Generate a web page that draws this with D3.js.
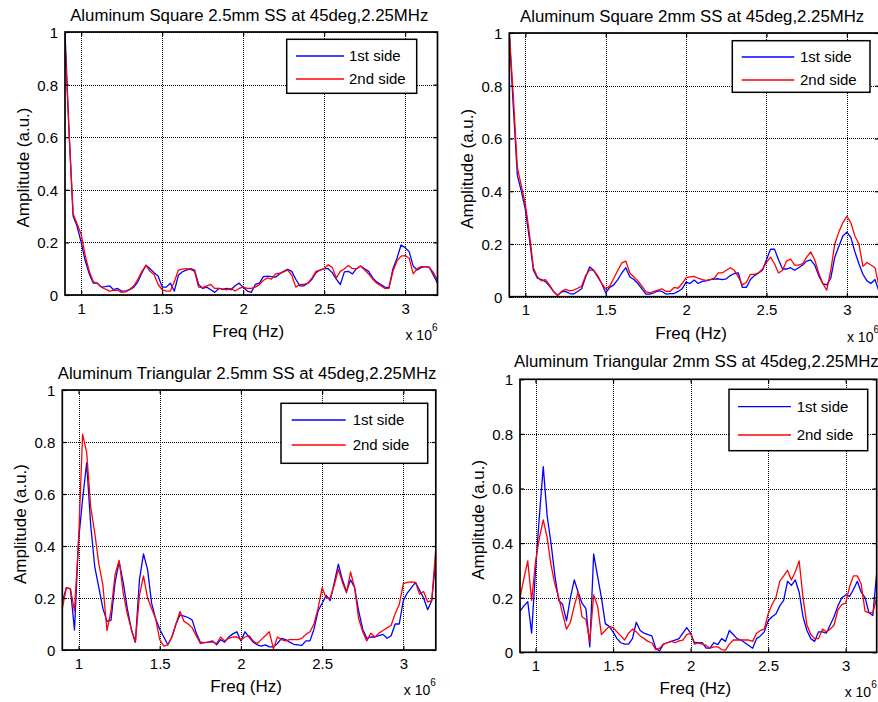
<!DOCTYPE html>
<html>
<head>
<meta charset="utf-8">
<script src="https://cdn.jsdelivr.net/npm/d3@7"></script>
<style>
  body { margin: 0; background: #fff; }
  svg { display: block; }
  text { font-family: "Liberation Sans", Arial, Helvetica, sans-serif; fill: #000; }
</style>
</head>
<body>
<svg id="chart" width="878" height="702"></svg>
<script>
// Spectra sampled on a uniform frequency grid (MHz): FREQ_START + i * FREQ_STEP
const FREQ_START = 0.9;
const FREQ_STEP = 0.025;

const titles = [
  "Aluminum Square 2.5mm SS at 45deg,2.25MHz",
  "Aluminum Square 2mm SS at 45deg,2.25MHz",
  "Aluminum Triangular 2.5mm SS at 45deg,2.25MHz",
  "Aluminum Triangular 2mm SS at 45deg,2.25MHz"
];
const seriesNames = ["1st side", "2nd side"];
const xTickValues = [1e6, 1.5e6, 2e6, 2.5e6, 3e6];
const xTickLabels = ["1", "1.5", "2", "2.5", "3"];
const yTickValues = [0, 0.2, 0.4, 0.6, 0.8, 1];
const yTickLabels = ["0", "0.2", "0.4", "0.6", "0.8", "1"];

// Square 2.5 mm
const sq25Side1 = [1.0,0.62,0.30,0.26,0.20,0.13,0.08,0.045,0.045,0.03,0.032,0.035,0.02,0.025,0.015,0.016,0.02,0.03,0.05,0.085,
  0.113,0.1,0.085,0.072,0.03,0.03,0.045,0.015,0.075,0.088,0.095,0.1,0.095,0.04,0.025,0.03,0.02,0.01,0.025,0.022,
  0.025,0.02,0.035,0.045,0.03,0.015,0.01,0.04,0.045,0.07,0.072,0.07,0.068,0.08,0.09,0.098,0.09,0.06,0.035,0.035,
  0.045,0.06,0.085,0.095,0.1,0.1,0.085,0.06,0.04,0.088,0.09,0.08,0.1,0.11,0.1,0.09,0.065,0.05,0.04,0.03,
  0.028,0.1,0.14,0.19,0.18,0.165,0.11,0.095,0.105,0.108,0.105,0.075,0.045];
const sq25Side2 = [0.96,0.62,0.31,0.27,0.23,0.15,0.09,0.05,0.045,0.03,0.022,0.015,0.018,0.018,0.01,0.012,0.022,0.035,0.06,0.09,
  0.113,0.09,0.078,0.04,0.02,0.015,0.015,0.05,0.095,0.098,0.1,0.097,0.09,0.03,0.028,0.035,0.04,0.025,0.025,0.022,
  0.02,0.025,0.015,0.025,0.03,0.025,0.025,0.03,0.04,0.055,0.065,0.06,0.08,0.083,0.088,0.095,0.075,0.03,0.04,0.04,
  0.045,0.065,0.09,0.095,0.1,0.115,0.105,0.065,0.09,0.1,0.112,0.1,0.1,0.11,0.095,0.08,0.06,0.045,0.035,0.025,
  0.025,0.09,0.13,0.148,0.15,0.14,0.08,0.1,0.108,0.108,0.105,0.085,0.055];

// Square 2 mm
const sq2Side1 = [1.0,0.72,0.46,0.4,0.33,0.22,0.1,0.07,0.065,0.057,0.04,0.02,0.005,0.018,0.02,0.012,0.01,0.02,0.03,0.075,
  0.113,0.1,0.075,0.05,0.015,0.035,0.045,0.065,0.09,0.11,0.075,0.065,0.05,0.03,0.01,0.01,0.015,0.022,0.02,0.01,
  0.012,0.012,0.02,0.03,0.055,0.05,0.063,0.05,0.058,0.06,0.065,0.067,0.068,0.065,0.068,0.08,0.088,0.09,0.035,0.035,
  0.065,0.08,0.09,0.1,0.14,0.18,0.18,0.14,0.105,0.105,0.11,0.1,0.11,0.12,0.135,0.14,0.12,0.08,0.05,0.045,
  0.07,0.15,0.19,0.23,0.245,0.225,0.17,0.125,0.085,0.06,0.05,0.065,0.02];
const sq2Side2 = [1.0,0.76,0.49,0.42,0.35,0.24,0.11,0.075,0.06,0.065,0.045,0.02,0.005,0.02,0.028,0.022,0.025,0.032,0.04,0.08,
  0.102,0.1,0.08,0.05,0.03,0.04,0.07,0.1,0.128,0.135,0.09,0.075,0.06,0.04,0.018,0.015,0.02,0.025,0.03,0.02,
  0.02,0.035,0.032,0.05,0.072,0.075,0.077,0.07,0.065,0.062,0.065,0.07,0.09,0.09,0.1,0.11,0.1,0.075,0.045,0.055,
  0.085,0.085,0.09,0.105,0.13,0.15,0.125,0.09,0.1,0.135,0.143,0.12,0.12,0.125,0.15,0.17,0.14,0.09,0.05,0.025,
  0.1,0.2,0.245,0.28,0.305,0.28,0.23,0.2,0.115,0.13,0.12,0.11,0.04];

// Triangular 2.5 mm
const tri25Side1 = [0.185,0.24,0.235,0.077,0.42,0.58,0.72,0.48,0.32,0.24,0.16,0.11,0.115,0.26,0.34,0.26,0.16,0.08,0.03,0.27,
  0.37,0.31,0.18,0.12,0.08,0.05,0.02,0.05,0.1,0.135,0.13,0.125,0.115,0.065,0.03,0.028,0.03,0.035,0.02,0.04,
  0.03,0.05,0.062,0.07,0.035,0.07,0.05,0.03,0.02,0.015,0.02,0.012,0.012,0.025,0.045,0.04,0.03,0.022,0.02,0.018,
  0.035,0.035,0.08,0.15,0.18,0.21,0.19,0.26,0.33,0.27,0.225,0.27,0.24,0.15,0.08,0.045,0.05,0.05,0.055,0.06,
  0.045,0.055,0.1,0.1,0.19,0.22,0.24,0.26,0.23,0.2,0.155,0.19,0.35];
const tri25Side2 = [0.16,0.24,0.235,0.15,0.42,0.83,0.76,0.55,0.45,0.33,0.25,0.075,0.15,0.29,0.345,0.22,0.14,0.08,0.03,0.21,
  0.285,0.2,0.16,0.12,0.04,0.015,0.02,0.05,0.1,0.148,0.11,0.1,0.085,0.055,0.025,0.028,0.03,0.03,0.025,0.05,
  0.035,0.045,0.05,0.05,0.04,0.05,0.055,0.035,0.025,0.04,0.055,0.07,0.005,0.05,0.04,0.035,0.04,0.04,0.04,0.045,
  0.06,0.07,0.1,0.16,0.24,0.2,0.2,0.25,0.31,0.26,0.22,0.3,0.24,0.12,0.07,0.035,0.065,0.05,0.065,0.075,
  0.085,0.095,0.14,0.175,0.255,0.26,0.262,0.26,0.215,0.225,0.185,0.19,0.39];

// Triangular 2 mm
const tri2Side1 = [0.15,0.17,0.185,0.07,0.3,0.5,0.68,0.5,0.4,0.28,0.19,0.175,0.115,0.2,0.265,0.22,0.18,0.16,0.02,0.36,
  0.28,0.2,0.105,0.095,0.075,0.05,0.035,0.03,0.03,0.05,0.11,0.08,0.07,0.065,0.06,0.015,0.005,0.03,0.035,0.04,
  0.045,0.05,0.07,0.09,0.07,0.035,0.035,0.035,0.015,0.015,0.035,0.028,0.05,0.04,0.08,0.065,0.05,0.045,0.035,0.025,
  0.015,0.05,0.06,0.075,0.115,0.13,0.14,0.17,0.19,0.26,0.245,0.265,0.22,0.13,0.08,0.05,0.04,0.075,0.075,0.07,
  0.1,0.13,0.17,0.2,0.21,0.205,0.23,0.26,0.22,0.2,0.145,0.135,0.29];
const tri2Side2 = [0.2,0.27,0.335,0.19,0.33,0.42,0.485,0.42,0.32,0.25,0.2,0.14,0.085,0.11,0.17,0.22,0.13,0.12,0.04,0.21,
  0.17,0.065,0.08,0.095,0.09,0.075,0.06,0.045,0.07,0.085,0.075,0.06,0.05,0.04,0.035,0.01,0.015,0.03,0.035,0.04,
  0.035,0.042,0.045,0.065,0.07,0.03,0.035,0.03,0.025,0.015,0.02,0.02,0.01,0.008,0.03,0.045,0.045,0.045,0.045,0.045,
  0.04,0.07,0.08,0.085,0.14,0.175,0.2,0.26,0.28,0.3,0.265,0.295,0.335,0.2,0.1,0.065,0.05,0.05,0.085,0.075,
  0.085,0.1,0.155,0.175,0.18,0.24,0.28,0.28,0.25,0.15,0.145,0.145,0.2];

// Layout of the four axes and their legends
const panels = [
  { title: titles[0], data: [sq25Side1, sq25Side2],
    box: { l: 65, r: 437.5, t: 32, b: 295 }, titleY: 21,
    legend: { x: 286.7, y: 39.3, w: 130, h: 54, lx0: 9.3, lx1: 57.3, tx: 62.3, r1: 16.7, r2: 39.7 } },
  { title: titles[1], data: [sq2Side1, sq2Side2],
    box: { l: 509.3, r: 879, t: 33, b: 296.7 }, titleY: 21.5,
    legend: { x: 732.3, y: 40.7, w: 137.7, h: 51.6, lx0: 9.4, lx1: 62, tx: 67.7, r1: 16.3, r2: 39.3 } },
  { title: titles[2], data: [tri25Side1, tri25Side2],
    box: { l: 62.3, r: 435.8, t: 390, b: 650 }, titleY: 379,
    legend: { x: 281, y: 403.3, w: 146.7, h: 60, lx0: 10.7, lx1: 64.7, tx: 71.7, r1: 16.7, r2: 41.7 } },
  { title: titles[3], data: [tri2Side1, tri2Side2],
    box: { l: 520, r: 876.7, t: 379.3, b: 652.3 }, titleY: 367.3,
    legend: { x: 729, y: 389.3, w: 138.7, h: 61.4, lx0: 9, lx1: 62, tx: 67.7, r1: 17.4, r2: 45.7 } }
];
const colors = ["#0000ff", "#ff0000"];

const svg = d3.select("#chart");
svg.append("rect").attr("width", 878).attr("height", 702).attr("fill", "#fff");
const defs = svg.append("defs");

panels.forEach((p, k) => {
  const { l, r, t, b } = p.box;
  const x = d3.scaleLinear().domain([0.9e6, 3.2e6]).range([l, r]);
  const y = d3.scaleLinear().domain([0, 1]).range([b, t]);
  const g = svg.append("g");

  g.append("rect").attr("x", l).attr("y", t).attr("width", r - l).attr("height", b - t).attr("fill", "#fff");

  // dotted grid, snapped to pixel centres so the dots stay dark
  const snap = v => Math.round(v) + 0.5;
  const grid = g.append("g").attr("stroke", "#000").attr("stroke-width", 1)
    .attr("stroke-dasharray", "1,1").attr("fill", "none").attr("shape-rendering", "crispEdges");
  xTickValues.forEach(v => grid.append("line")
    .attr("x1", snap(x(v))).attr("x2", snap(x(v))).attr("y1", t).attr("y2", b));
  yTickValues.forEach(v => grid.append("line")
    .attr("x1", l).attr("x2", r).attr("y1", snap(y(v))).attr("y2", snap(y(v))));

  // data curves
  const clipId = "clip" + k;
  defs.append("clipPath").attr("id", clipId).append("rect")
    .attr("x", l).attr("y", t - 1).attr("width", r - l).attr("height", b - t + 1);
  const line = d3.line()
    .x((d, i) => x((FREQ_START + i * FREQ_STEP) * 1e6))
    .y(d => y(d));
  p.data.forEach((s, j) => {
    g.append("path").datum(s).attr("d", line).attr("clip-path", `url(#${clipId})`)
      .attr("fill", "none").attr("stroke", colors[j]).attr("stroke-width", 1.3)
      .attr("stroke-linejoin", "round");
  });

  // axes with inward ticks on all sides
  const tickLen = 4;
  const xb = g.append("g").attr("transform", `translate(0,${b})`)
    .call(d3.axisBottom(x).tickValues(xTickValues).tickFormat((d, i) => xTickLabels[i])
      .tickSizeInner(-tickLen).tickSizeOuter(0).tickPadding(8));
  const xt = g.append("g").attr("transform", `translate(0,${t})`)
    .call(d3.axisTop(x).tickValues(xTickValues).tickFormat("").tickSizeInner(-tickLen).tickSizeOuter(0));
  const yl = g.append("g").attr("transform", `translate(${l},0)`)
    .call(d3.axisLeft(y).tickValues(yTickValues).tickFormat((d, i) => yTickLabels[i])
      .tickSizeInner(-tickLen).tickSizeOuter(0).tickPadding(7));
  const yr = g.append("g").attr("transform", `translate(${r},0)`)
    .call(d3.axisRight(y).tickValues(yTickValues).tickFormat("").tickSizeInner(-tickLen).tickSizeOuter(0));
  [xb, xt, yl, yr].forEach(a => {
    a.select(".domain").remove();
    a.selectAll(".tick line").attr("stroke", "#000").attr("stroke-width", 1.2);
    a.selectAll(".tick text").attr("font-size", 15)
      .attr("font-family", '"Liberation Sans", Arial, sans-serif').attr("fill", "#000");
  });
  yl.selectAll(".tick text").attr("dy", "0.36em");

  g.append("rect").attr("x", l).attr("y", t).attr("width", r - l).attr("height", b - t)
    .attr("fill", "none").attr("stroke", "#000").attr("stroke-width", 1.7);

  // title and axis labels
  const cx = (l + r) / 2 - 2;
  g.append("text").attr("x", cx).attr("y", p.titleY).attr("text-anchor", "middle")
    .attr("font-size", 16.8).text(p.title);
  g.append("text").attr("x", cx - 1).attr("y", b + 42).attr("text-anchor", "middle")
    .attr("font-size", 17).text("Freq (Hz)");
  g.append("text").attr("transform", `translate(${l - 36},${(t + b) / 2 + 4}) rotate(-90)`)
    .attr("text-anchor", "middle").attr("font-size", 17).text("Amplitude (a.u.)");
  const ex = g.append("text").attr("x", r).attr("y", b + 45).attr("text-anchor", "end").attr("font-size", 14);
  ex.append("tspan").text("x 10");
  ex.append("tspan").attr("font-size", 10).attr("dy", -9).text("6");

  // legend
  const L = p.legend;
  const lg = g.append("g").attr("transform", `translate(${L.x},${L.y})`);
  lg.append("rect").attr("width", L.w).attr("height", L.h).attr("fill", "#fff")
    .attr("stroke", "#000").attr("stroke-width", 1.5);
  [L.r1, L.r2].forEach((ry, j) => {
    lg.append("line").attr("x1", L.lx0).attr("x2", L.lx1).attr("y1", ry).attr("y2", ry)
      .attr("stroke", colors[j]).attr("stroke-width", 1.3);
    lg.append("text").attr("x", L.tx).attr("y", ry + 5.5).attr("font-size", 15).text(seriesNames[j]);
  });
});
</script>
</body>
</html>
